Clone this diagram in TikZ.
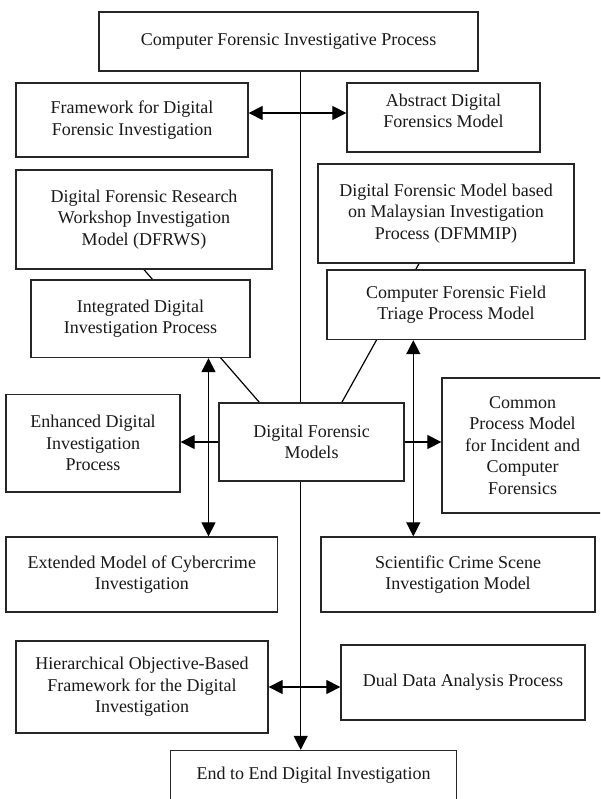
\documentclass[tikz,border=0pt]{standalone}
\usepackage{fontspec}
\setmainfont{Liberation Serif}
\usetikzlibrary{arrows.meta,calc,backgrounds}
\tikzset{
  box/.style={draw=black!85, line width=1.3pt, fill=white, align=center, inner sep=0pt,
    font=\fontsize{18}{21.5}\selectfont, text=black!90},
  conn/.style={line width=1.2pt, draw=black},
  tipone/.style={-{Triangle[length=14pt,width=14pt]}},
  tiptwo/.style={{Triangle[length=14pt,width=14pt]}-{Triangle[length=14pt,width=14pt]}},
}
\newcommand\mybox[6]{\node[box, minimum width={#4-#2}, minimum height={#5-#3}] (#1) at ({(#2+#4)/2},{(#3+#5)/2}) {#6};}
\begin{document}
\begin{tikzpicture}[x=1pt,y=-1pt]
\useasboundingbox (0,0) rectangle (600,799);
\clip (0,0) rectangle (600,799);
% boxes
\mybox{top}{99}{12}{478}{71}{Computer Forensic Investigative Process}
\mybox{fw}{16}{83}{248}{157}{Framework for Digital\\Forensic Investigation}
\mybox{ad}{347}{83}{540}{152}{Abstract Digital\\Forensics Model\\[-8.5pt]\mbox{}}
\mybox{dfrws}{16}{170}{272}{269}{Digital Forensic Research\\Workshop Investigation\\Model (DFRWS)}
\mybox{dfmmip}{318}{164}{574}{263}{Digital Forensic Model based\\on Malaysian Investigation\\Process (DFMMIP)}
\mybox{idip}{31}{280}{250}{357.5}{Integrated Digital\\Investigation Process}
\mybox{triage}{327}{270}{585}{339.5}{Computer Forensic Field\\Triage Process Model}
\mybox{enh}{6}{394.5}{180}{492}{Enhanced Digital\\Investigation\\Process}
\mybox{models}{219}{403}{404}{481}{Digital Forensic\\Models}
\mybox{common}{442}{378}{603}{513}{Common\\Process Model\\for Incident and\\Computer\\Forensics}
\mybox{ext}{6}{537}{277.5}{612}{Extended Model of Cybercrime\\Investigation}
\mybox{sci}{321}{537}{595}{612}{Scientific Crime Scene\\Investigation Model}
\mybox{hier}{16}{641}{268}{733}{Hierarchical Objective-Based\\Framework for the Digital\\Investigation}
\mybox{dual}{341}{645}{585}{720}{Dual Data Analysis Process}
\mybox{eted}{170.5}{750.5}{456.5}{812}{End to End Digital Investigation\\[-5pt]\mbox{}}
% helper coordinates
\coordinate (spine) at (300.7,0);
\coordinate (ya) at (0,113);
\coordinate (yb) at (0,687);
\coordinate (xl) at (208.5,0);
\coordinate (xr) at (413.3,0);
% lines passing behind boxes
\begin{pgfonlayer}{background}
\draw[conn,tipone] (top.south -| spine) -- (eted.north -| spine);
\draw[conn] (dfrws.south) -- ($(models.north west)+(41,0)$);
\draw[conn] ($(dfmmip.south)+(-27,0)$) -- ($(models.north west)+(123.5,0)$);
\end{pgfonlayer}
% connectors
\draw[conn,tiptwo] (fw.east |- ya) -- (ad.west |- ya);
\draw[conn,tiptwo] (idip.south -| xl) -- (ext.north -| xl);
\draw[conn,tiptwo] (triage.south -| xr) -- (sci.north -| xr);
\draw[conn,tipone] (models.west) -- (enh.east |- models.west);
\draw[conn,tipone] (models.east) -- (common.west |- models.east);
\draw[conn,tiptwo] (hier.east |- yb) -- (dual.west |- yb);
\end{tikzpicture}
\end{document}
